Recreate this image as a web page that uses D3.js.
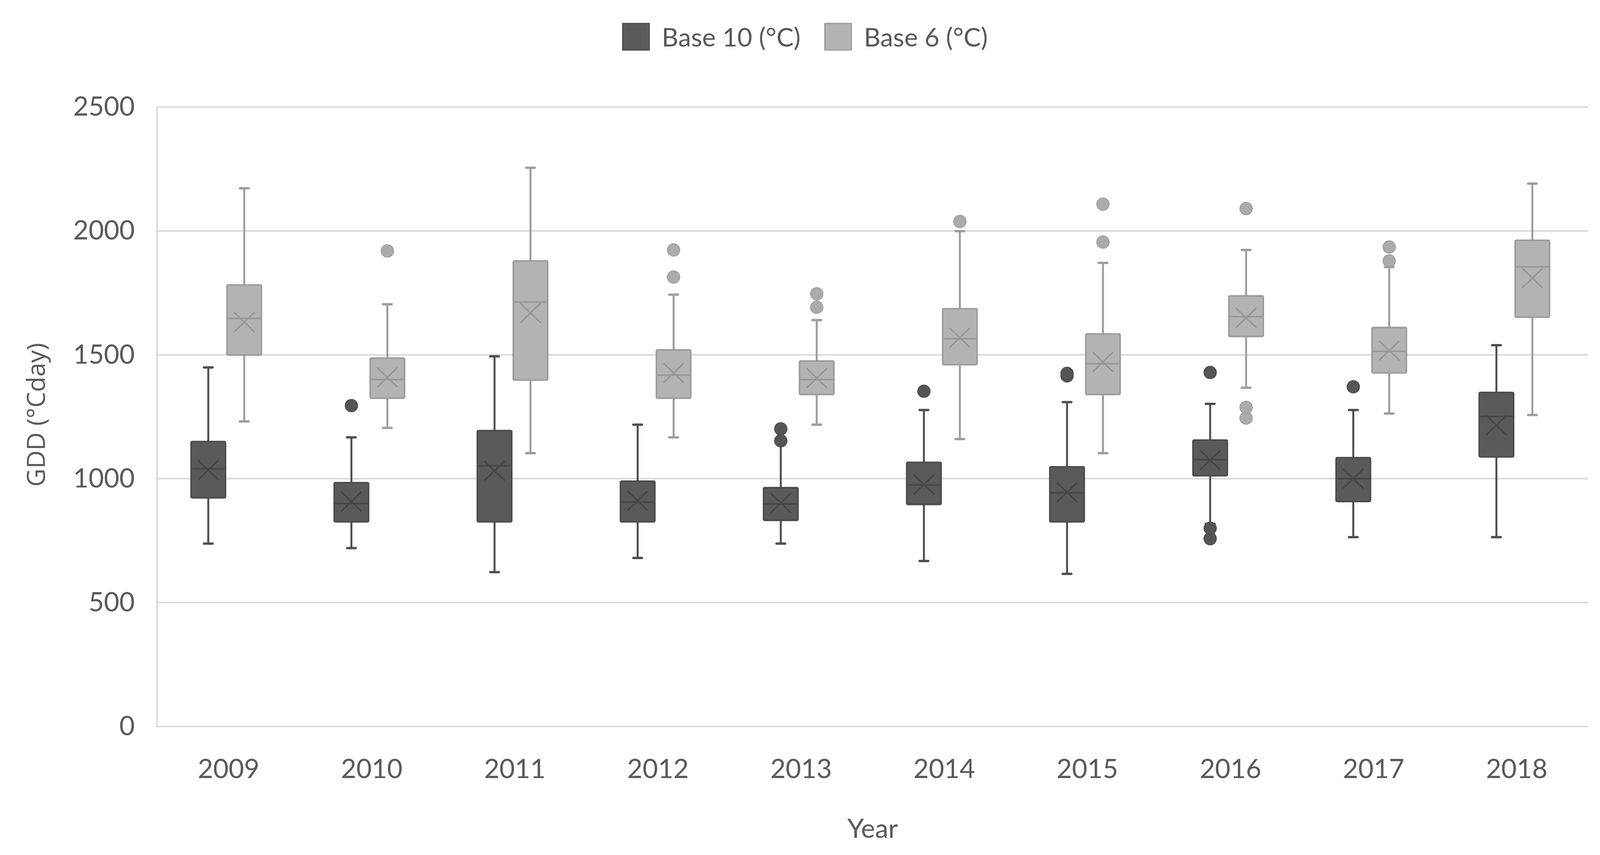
<!DOCTYPE html>
<html>
<head>
<meta charset="utf-8">
<script src="https://cdn.jsdelivr.net/npm/d3@7"></script>
<style>
  body { margin: 0; background: #fff; }
  svg { display: block; }
</style>
</head>
<body>
<svg width="4180" height="2189"></svg>
<script>
const years = ['2009', '2010', '2011', '2012', '2013', '2014', '2015', '2016', '2017', '2018'];
const yTicks = [0, 500, 1000, 1500, 2000, 2500];

// Base 10 (°C)
const b10Low    = [738, 720, 623, 680, 738, 668, 616, 818, 764, 764];
const b10Q1     = [923, 826, 826, 826, 832, 896, 826, 1012, 908, 1088];
const b10Median = [1040, 900, 1052, 905, 898, 975, 943, 1077, 1000, 1251];
const b10Q3     = [1150, 984, 1194, 990, 964, 1066, 1048, 1156, 1085, 1348];
const b10High   = [1449, 1167, 1494, 1218, 1140, 1277, 1309, 1302, 1277, 1539];
const b10Mean   = [1035, 908, 1032, 911, 902, 977, 945, 1075, 1000, 1216];
const b10Out    = [[], [1295], [], [], [1153, 1201], [1353], [1415, 1425], [758, 800, 1429], [1371], []];

// Base 6 (°C)
const b6Low    = [1231, 1205, 1103, 1167, 1218, 1160, 1103, 1367, 1263, 1257];
const b6Q1     = [1499, 1325, 1398, 1325, 1340, 1460, 1340, 1574, 1427, 1652];
const b6Median = [1647, 1400, 1713, 1418, 1400, 1565, 1464, 1654, 1514, 1855];
const b6Q3     = [1782, 1487, 1879, 1520, 1475, 1686, 1584, 1738, 1610, 1962];
const b6High   = [2172, 1704, 2255, 1743, 1640, 1999, 1871, 1923, 1854, 2191];
const b6Mean   = [1632, 1409, 1669, 1427, 1406, 1569, 1471, 1649, 1517, 1810];
const b6Out    = [[], [1919], [], [1814, 1923], [1692, 1746], [2038], [1955, 2108], [1245, 1288, 2090], [1879, 1935], []];

const seriesNames = ['Base 10 (°C)', 'Base 6 (°C)'];

const build = (low, q1, med, q3, high, mean, out) =>
  years.map((y, i) => ({ year: y, low: low[i], q1: q1[i], med: med[i], q3: q3[i], high: high[i], mean: mean[i], out: out[i] }));

const series = [
  { name: seriesNames[0], fill: '#5a5a5a', stroke: '#4b4b4b', line: '#4e4e4e', mark: '#474747', dot: '#555555',
    rows: build(b10Low, b10Q1, b10Median, b10Q3, b10High, b10Mean, b10Out) },
  { name: seriesNames[1], fill: '#b3b3b3', stroke: '#9b9b9b', line: '#9d9d9d', mark: '#979797', dot: '#ababab',
    rows: build(b6Low, b6Q1, b6Median, b6Q3, b6High, b6Mean, b6Out) }
];

const svg = d3.select('svg');
const plotLeft = 402, plotRight = 4066, plotTop = 274, plotBottom = 1860;
const textColor = '#595959';
const font = 'Lato, "Open Sans", sans-serif';

const x = d3.scaleBand().domain(years).range([plotLeft, plotRight]);
const dodge = d3.scaleBand().domain(seriesNames).range([-92, 92]);
const y = d3.scaleLinear().domain([0, 2500]).range([plotBottom, plotTop]);
const boxW = 88;
const shift = -6;

// gridlines
svg.append('g')
  .selectAll('line')
  .data(yTicks)
  .enter()
  .append('line')
  .attr('x1', plotLeft).attr('x2', plotRight)
  .attr('y1', d => y(d)).attr('y2', d => y(d))
  .attr('stroke', '#d9d9d9')
  .attr('stroke-width', 4);

svg.append('line')
  .attr('x1', plotLeft).attr('x2', plotLeft)
  .attr('y1', plotTop).attr('y2', plotBottom + 2)
  .attr('stroke', '#d9d9d9')
  .attr('stroke-width', 4);

// y axis labels
const yAxis = svg.append('g')
  .attr('transform', `translate(${plotLeft - 57},0)`)
  .call(d3.axisLeft(y).tickValues(yTicks).tickSize(0).tickPadding(0).tickFormat(d3.format('d')));
yAxis.select('.domain').remove();
yAxis.selectAll('text')
  .attr('fill', textColor)
  .style('font-family', font)
  .style('font-size', '68px');

// x axis labels
const xAxis = svg.append('g')
  .attr('transform', `translate(0,${plotBottom})`)
  .call(d3.axisBottom(x).tickSize(0).tickPadding(84));
xAxis.select('.domain').remove();
xAxis.selectAll('text')
  .attr('fill', textColor)
  .style('font-family', font)
  .style('font-size', '68px');

// axis titles
svg.append('text')
  .attr('x', 2234).attr('y', 2118)
  .attr('text-anchor', 'middle')
  .attr('dominant-baseline', 'central')
  .attr('fill', textColor)
  .style('font-family', font)
  .style('font-size', '68px')
  .text('Year');

svg.append('text')
  .attr('transform', 'translate(90,1062) rotate(-90)')
  .attr('text-anchor', 'middle')
  .attr('dominant-baseline', 'central')
  .attr('fill', textColor)
  .style('font-family', '"Open Sans", sans-serif')
  .style('font-size', '64px')
  .text('GDD (°Cday)');

// boxes
series.forEach(s => {
  const g = svg.append('g');
  const cx = d => x(d.year) + x.bandwidth() / 2 + dodge(s.name) + dodge.bandwidth() / 2 + shift;

  const box = g.selectAll('g.box')
    .data(s.rows)
    .enter()
    .append('g')
    .attr('class', 'box');

  // whiskers
  box.append('line')
    .attr('x1', cx).attr('x2', cx)
    .attr('y1', d => y(d.high)).attr('y2', d => y(d.q3))
    .attr('stroke', s.line).attr('stroke-width', 5);
  box.append('line')
    .attr('x1', cx).attr('x2', cx)
    .attr('y1', d => y(d.q1)).attr('y2', d => y(d.low))
    .attr('stroke', s.line).attr('stroke-width', 5);
  ['high', 'low'].forEach(k => {
    box.append('line')
      .attr('x1', d => cx(d) - 11).attr('x2', d => cx(d) + 11)
      .attr('y1', d => y(d[k])).attr('y2', d => y(d[k]))
      .attr('stroke', s.line).attr('stroke-width', 6)
      .attr('stroke-linecap', 'round');
  });

  box.append('rect')
    .attr('x', d => cx(d) - boxW / 2)
    .attr('width', boxW)
    .attr('y', d => y(d.q3))
    .attr('height', d => y(d.q1) - y(d.q3))
    .attr('rx', 3)
    .attr('fill', s.fill)
    .attr('stroke', s.stroke)
    .attr('stroke-width', 4);

  // median
  box.append('line')
    .attr('x1', d => cx(d) - boxW / 2 + 2).attr('x2', d => cx(d) + boxW / 2 - 2)
    .attr('y1', d => y(d.med)).attr('y2', d => y(d.med))
    .attr('stroke', s.mark).attr('stroke-width', 4);

  // mean marker
  box.append('path')
    .attr('d', d => {
      const mx = cx(d), my = y(d.mean);
      return `M${mx - 26},${my - 25}L${mx + 26},${my + 25}M${mx - 26},${my + 25}L${mx + 26},${my - 25}`;
    })
    .attr('stroke', s.mark).attr('stroke-width', 4).attr('fill', 'none');

  // outliers
  box.selectAll('circle')
    .data(d => d.out.map(v => ({ cx: cx(d), v })))
    .enter()
    .append('circle')
    .attr('cx', d => d.cx)
    .attr('cy', d => y(d.v))
    .attr('r', 16)
    .attr('fill', s.dot)
    .attr('stroke', s.stroke)
    .attr('stroke-width', 2);
});

// legend
const legend = svg.append('g');
let lx = 1594;
series.forEach(s => {
  legend.append('rect')
    .attr('x', lx).attr('y', 60)
    .attr('width', 68).attr('height', 68)
    .attr('fill', s.fill)
    .attr('stroke', s.stroke)
    .attr('stroke-width', 3);
  const t = legend.append('text')
    .attr('x', lx + 100).attr('y', 119)
    .attr('fill', textColor)
    .style('font-family', font)
    .style('font-size', '66px')
    .text(s.name);
  lx += 100 + t.node().getComputedTextLength() + 62;
});
</script>
</body>
</html>
